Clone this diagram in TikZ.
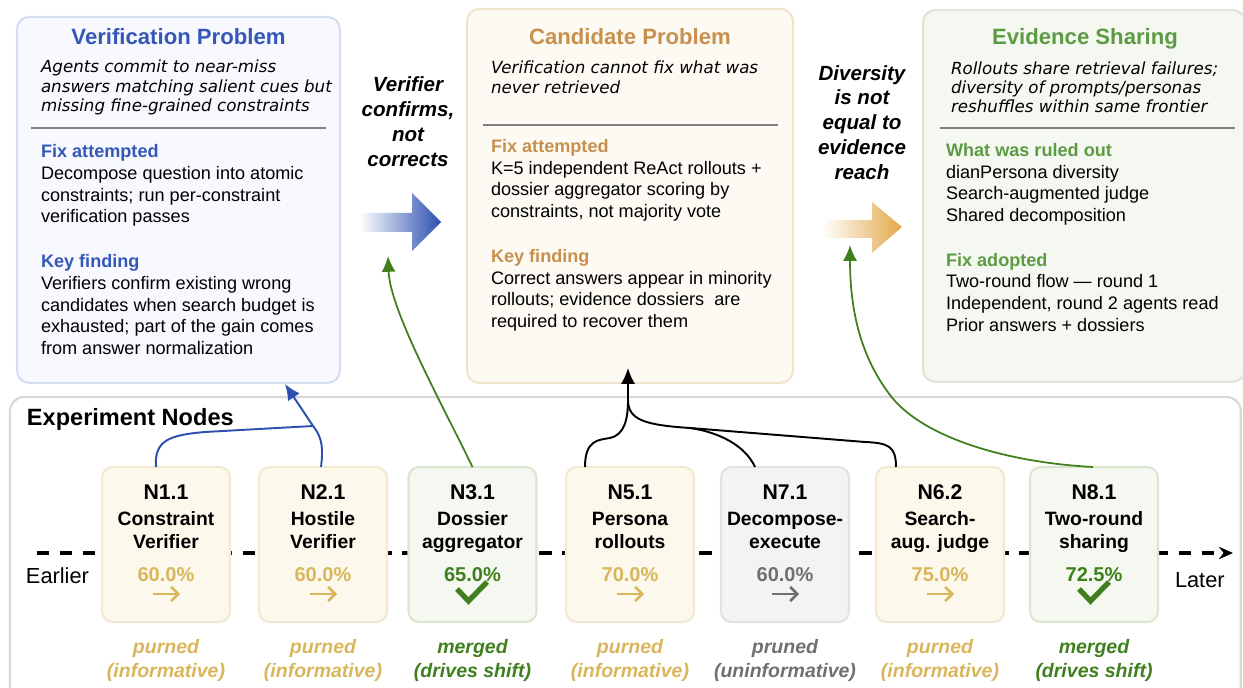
\documentclass[tikz,border=0pt]{standalone}
\usepackage{fontspec}
\setmainfont{Liberation Sans}
\newfontfamily\obl{DejaVu Sans}
\usetikzlibrary{arrows.meta,calc}
\definecolor{bAfill}{HTML}{F7F9FE}
\definecolor{bAbd}{HTML}{D5DEF0}
\definecolor{bBfill}{HTML}{FDFAF3}
\definecolor{bBbd}{HTML}{EFE5CF}
\definecolor{bCfill}{HTML}{F5F7F1}
\definecolor{bCbd}{HTML}{DFE6D8}
\definecolor{blueT}{HTML}{3558B8}
\definecolor{blueC}{HTML}{2C4FB0}
\definecolor{brownT}{HTML}{C8904E}
\definecolor{orangeA}{HTML}{E3A84A}
\definecolor{greenT}{HTML}{5C9B43}
\definecolor{greenN}{HTML}{3F7F1E}
\definecolor{goldT}{HTML}{D9B65C}
\definecolor{grayT}{HTML}{707070}
\definecolor{divc}{HTML}{808080}
\definecolor{yfill}{HTML}{FCF9EC}
\definecolor{ybd}{HTML}{F2E9D2}
\definecolor{gfill}{HTML}{F4F8F0}
\definecolor{gbd}{HTML}{DBE6D2}
\definecolor{kfill}{HTML}{F3F3F3}
\definecolor{kbd}{HTML}{E2E2E2}
\definecolor{expbd}{HTML}{D8D8D8}
\tikzset{
  ttl/.style={anchor=base, font=\fontsize{12.6}{15}\selectfont\bfseries},
  itl/.style={anchor=base west, font=\obl\fontsize{9.5}{11}\selectfont\itshape},
  hd/.style={anchor=base west, font=\fontsize{10.3}{12}\selectfont\bfseries},
  bd/.style={anchor=base west, font=\fontsize{10.3}{12}\selectfont},
  midl/.style={anchor=base, font=\fontsize{11.7}{14}\selectfont\bfseries\itshape},
  nid/.style={anchor=base, font=\fontsize{12.1}{14}\selectfont\bfseries},
  nln/.style={anchor=base, font=\fontsize{11}{13}\selectfont\bfseries},
  pct/.style={anchor=base, font=\fontsize{11.4}{13}\selectfont\bfseries},
  stl/.style={anchor=base, font=\fontsize{11.1}{13}\selectfont\bfseries\itshape},
  nbox/.style={line width=1.2pt, rounded corners=6pt, minimum width=2.56cm, minimum height=3.1cm},
  ybox/.style={nbox, draw=ybd, fill=yfill},
  gbox/.style={nbox, draw=gbd, fill=gfill},
  kbox/.style={nbox, draw=kbd, fill=kfill},
  divline/.style={draw=divc, line width=1.2pt},
  smallarr/.style={line width=1.5pt, -{Straight Barb[length=4pt,width=8pt]}},
  chk/.style={draw=greenN, line width=3pt},
  conn/.style={line width=1.1pt, -{Latex[length=9pt,width=8pt]}},
}
\begin{document}
\begin{tikzpicture}[x=0.02cm,y=-0.02cm, every node/.style={inner sep=0pt, outer sep=0pt}]
\path[use as bounding box] (0,0) rectangle (1243,688);
\clip (0,0) rectangle (1243,688);

% ===== top boxes =====
\node[draw=bAbd, fill=bAfill, line width=1.2pt, rounded corners=7pt, minimum width=6.46cm, minimum height=7.32cm, anchor=north west] (vp) at (17,17) {};
\node[draw=bBbd, fill=bBfill, line width=1.2pt, rounded corners=7pt, minimum width=6.52cm, minimum height=7.48cm, anchor=north west] (cp) at (467,9) {};
\node[draw=bCbd, fill=bCfill, line width=1.2pt, rounded corners=7pt, minimum width=6.44cm, minimum height=7.44cm, anchor=north west] (es) at (923,10) {};

% box 1
\node[ttl, text=blueT] (vpt) at (178.5,45) {Verification Problem};
\node[itl] (vpi1) at (41,73) {Agents commit to near-miss};
\node[itl] (vpi2) at (41,93) {answers matching salient cues but};
\node[itl] (vpi3) at (41,112) {missing fine-grained constraints};
\draw[divline] (31,128) -- (326,128);
\node[hd, text=blueT] (vph1) at (41,158) {Fix attempted};
\node[bd] (vpb1) at (41,180) {Decompose question into atomic};
\node[bd] (vpb2) at (41,202) {constraints; run per-constraint};
\node[bd] (vpb3) at (41,223) {verification passes};
\node[hd, text=blueT] (vph2) at (41,268) {Key finding};
\node[bd] (vpb4) at (41,290) {Verifiers confirm existing wrong};
\node[bd] (vpb5) at (41,312) {candidates when search budget is};
\node[bd] (vpb6) at (41,333) {exhausted; part of the gain comes};
\node[bd] (vpb7) at (41,355) {from answer normalization};

% box 2
\node[ttl, text=brownT] (cpt) at (630,45) {Candidate Problem};
\node[itl] (cpi1) at (491,74) {Verification cannot fix what was};
\node[itl] (cpi2) at (491,94) {never retrieved};
\draw[divline] (483,125) -- (778,125);
\node[hd, text=brownT] (cph1) at (491,153) {Fix attempted};
\node[bd] (cpb1) at (491,175) {K=5 independent ReAct rollouts +};
\node[bd] (cpb2) at (491,196) {dossier aggregator scoring by};
\node[bd] (cpb3) at (491,218) {constraints, not majority vote};
\node[hd, text=brownT] (cph2) at (491,263) {Key finding};
\node[bd] (cpb4) at (491,285) {Correct answers appear in minority};
\node[bd] (cpb5) at (491,306) {rollouts; evidence dossiers\ \ are};
\node[bd] (cpb6) at (491,328) {required to recover them};

% box 3
\node[ttl, text=greenT] (est) at (1085,45) {Evidence Sharing};
\node[itl] (esi1) at (951,75) {Rollouts share retrieval failures;};
\node[itl] (esi2) at (951,94) {diversity of prompts/personas};
\node[itl] (esi3) at (951,113) {reshuffles within same frontier};
\draw[divline] (940,128) -- (1235,128);
\node[hd, text=greenT] (esh1) at (946,157) {What was ruled out};
\node[bd] (esb1) at (946,179) {dianPersona diversity};
\node[bd] (esb2) at (946,200) {Search-augmented judge};
\node[bd] (esb3) at (946,222) {Shared decomposition};
\node[hd, text=greenT] (esh2) at (946,267) {Fix adopted};
\node[bd] (esb4) at (946,288) {Two-round flow --- round 1};
\node[bd] (esb5) at (946,310) {Independent, round 2 agents read};
\node[bd] (esb6) at (946,332) {Prior answers + dossiers};

% middle labels
\node[midl] (m1a) at (408,92) {Verifier};
\node[midl] (m1b) at (408,117) {confirms,};
\node[midl] (m1c) at (408,142) {not};
\node[midl] (m1d) at (408,167) {corrects};
\node[midl] (m2a) at (862,81) {Diversity};
\node[midl] (m2b) at (862,105) {is not};
\node[midl] (m2c) at (862,130) {equal to};
\node[midl] (m2d) at (862,155) {evidence};
\node[midl] (m2e) at (862,180) {reach};

% block arrows
\shade[left color=white, right color=blueC, shading angle=90] (360,213) -- (412,213) -- (412,193) -- (441,222) -- (412,251) -- (412,232) -- (360,232) -- cycle;
\shade[left color=white, right color=orangeA, shading angle=90] (822,220) -- (872,220) -- (872,202) -- (902,227) -- (872,253) -- (872,238) -- (822,238) -- cycle;

% ===== experiment nodes =====
\node[draw=expbd, line width=1.2pt, rounded corners=8pt, minimum width=24.62cm, minimum height=6.5cm, anchor=north west] (exp) at (10,397) {};
\node[anchor=base west, font=\fontsize{13.4}{16}\selectfont\bfseries] (expt) at (27,426) {Experiment Nodes};

\coordinate (tl0) at (37,553);
\coordinate (tl1) at (1233,553);
\draw[line width=2pt, dash pattern=on 7pt off 6pt, -{Stealth[length=8pt,width=7pt]}] (tl0) -- (tl1);
\node[anchor=base west, font=\fontsize{12.4}{14}\selectfont] (earl) at (26,583) {Earlier};
\node[anchor=base west, font=\fontsize{12.4}{14}\selectfont] (late) at (1175,587) {Later};

\node[ybox] (n11) at (166,544.5) {};
\node[ybox] (n21) at (323,544.5) {};
\node[gbox] (n31) at (472.5,544.5) {};
\node[ybox] (n51) at (630,544.5) {};
\node[kbox] (n71) at (785,544.5) {};
\node[ybox] (n62) at (940,544.5) {};
\node[gbox] (n81) at (1094,544.5) {};

% N1.1
\node[nid] (t11a) at (166,500) {N1.1};
\node[nln] (t11b) at (166,525) {Constraint};
\node[nln] (t11c) at (166,548) {Verifier};
\node[pct, text=goldT] (t11d) at (166,581) {60.0\%};
\draw[smallarr, goldT] (153,594) -- (180,594);
\node[stl, text=goldT] (s11a) at (166,653) {purned};
\node[stl, text=goldT] (s11b) at (166,677) {(informative)};
% N2.1
\node[nid] (t21a) at (323,500) {N2.1};
\node[nln] (t21b) at (323,525) {Hostile};
\node[nln] (t21c) at (323,548) {Verifier};
\node[pct, text=goldT] (t21d) at (323,581) {60.0\%};
\draw[smallarr, goldT] (310,594) -- (337,594);
\node[stl, text=goldT] (s21a) at (323,653) {purned};
\node[stl, text=goldT] (s21b) at (323,677) {(informative)};
% N3.1
\node[nid] (t31a) at (472.5,500) {N3.1};
\node[nln] (t31b) at (472.5,525) {Dossier};
\node[nln] (t31c) at (472.5,548) {aggregator};
\node[pct, text=greenN] (t31d) at (472.5,581) {65.0\%};
\draw[chk] (457,589) -- (468.5,601) -- (487,582);
\node[stl, text=greenN] (s31a) at (472.5,653) {merged};
\node[stl, text=greenN] (s31b) at (472.5,677) {(drives shift)};
% N5.1
\node[nid] (t51a) at (630,500) {N5.1};
\node[nln] (t51b) at (630,525) {Persona};
\node[nln] (t51c) at (630,548) {rollouts};
\node[pct, text=goldT] (t51d) at (630,581) {70.0\%};
\draw[smallarr, goldT] (617,594) -- (644,594);
\node[stl, text=goldT] (s51a) at (630,653) {purned};
\node[stl, text=goldT] (s51b) at (630,677) {(informative)};
% N7.1
\node[nid] (t71a) at (785,500) {N7.1};
\node[nln] (t71b) at (785,525) {Decompose-};
\node[nln] (t71c) at (785,548) {execute};
\node[pct, text=grayT] (t71d) at (785,581) {60.0\%};
\draw[smallarr, grayT] (772,594) -- (799,594);
\node[stl, text=grayT] (s71a) at (785,653) {pruned};
\node[stl, text=grayT] (s71b) at (785,677) {(uninformative)};
% N6.2
\node[nid] (t62a) at (940,500) {N6.2};
\node[nln] (t62b) at (940,525) {Search-};
\node[nln] (t62c) at (940,548) {aug. judge};
\node[pct, text=goldT] (t62d) at (940,581) {75.0\%};
\draw[smallarr, goldT] (927,594) -- (954,594);
\node[stl, text=goldT] (s62a) at (940,653) {purned};
\node[stl, text=goldT] (s62b) at (940,677) {(informative)};
% N8.1
\node[nid] (t81a) at (1094,500) {N8.1};
\node[nln] (t81b) at (1094,525) {Two-round};
\node[nln] (t81c) at (1094,548) {sharing};
\node[pct, text=greenN] (t81d) at (1094,581) {72.5\%};
\draw[chk] (1079,589) -- (1090.5,601) -- (1109,582);
\node[stl, text=greenN] (s81a) at (1094,653) {merged};
\node[stl, text=greenN] (s81b) at (1094,677) {(drives shift)};

% ===== connectors =====
% blue
\coordinate (jb) at (313,426);
\coordinate (vtip) at (285,384);
\draw[blueC, line width=1.1pt] ($(n11.north)+(-10,0)$) .. controls (154,440) and (170,435) .. (205,432) -- (jb);
\draw[blueC, line width=1.1pt] ($(n21.north)+(-2,0)$) .. controls (323,450) and (323,438) .. (jb);
\draw[conn, blueC] (jb) -- (vtip);
% green to blue arrow
\coordinate (gtip1) at (388,256);
\draw[conn, greenN, line width=1pt] (n31.north) .. controls (440,400) and (390,310) .. (gtip1);
% black
\coordinate (jk) at (628,400);
\coordinate (kk) at (690,428);
\coordinate (ktip) at (628,368);
\draw[line width=1.1pt] ($(n51.north)+(-45,0)$) .. controls (585,440) and (598,440) .. (610,438) .. controls (624,435) and (628,420) .. (jk);
\draw[line width=1.1pt] ($(n71.north)+(-30,0)$) .. controls (745,445) and (718,432) .. (kk);
\draw[line width=1.1pt] ($(n62.north)+(-44,0)$) .. controls (896,446) and (888,443) .. (865,442) -- (kk);
\draw[line width=1.1pt] (kk) .. controls (645,425) and (628,420) .. (jk);
\draw[conn] (jk) -- (ktip);
% green to orange arrow
\coordinate (gtip2) at (850,245);
\draw[conn, greenN, line width=1pt] ($(n81.north)+(-1,0)$) .. controls (1000,462) and (920,435) .. (890,395) .. controls (865,362) and (850,320) .. (gtip2);
\end{tikzpicture}
\end{document}
